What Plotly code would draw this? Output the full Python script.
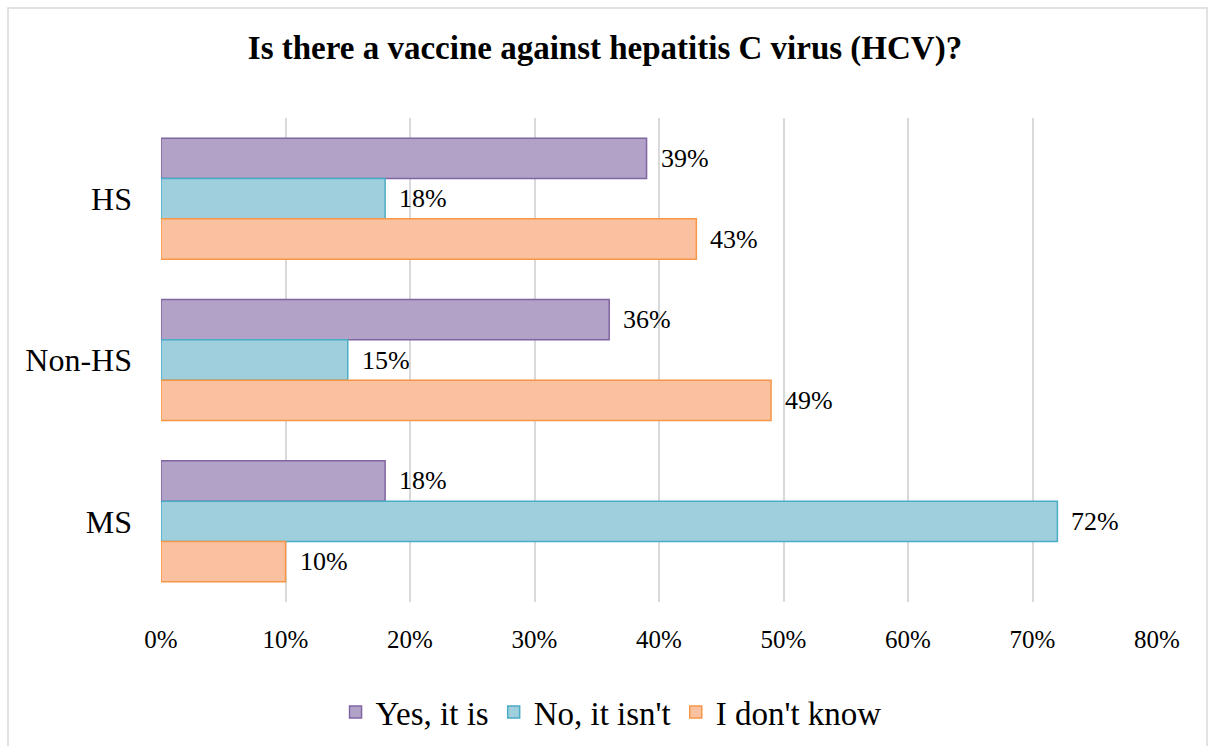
import plotly.graph_objects as go

categories = ["HS", "Non-HS", "MS"]
yes_it_is = [39, 36, 18]
no_it_isnt = [18, 15, 72]
dont_know = [43, 49, 10]
x_ticks = [0, 10, 20, 30, 40, 50, 60, 70, 80]

series = [
    ("Yes, it is", yes_it_is, "#b3a2c8", "#8064a2"),
    ("No, it isn't", no_it_isnt, "#9fcfdd", "#4bacc6"),
    ("I don't know", dont_know, "#fac1a0", "#f79646"),
]

FONT = "Liberation Serif"
W, H = 1210, 746
L, R, T, B = 161, 53, 118, 144

fig = go.Figure()
for name, vals, fill, line in series:
    fig.add_trace(go.Bar(
        name=name, y=categories, x=vals, orientation="h",
        marker=dict(color=fill, line=dict(color=line, width=1.5)),
    ))

# value labels just past the end of each bar
bar_px = (H - T - B) / 3 * 0.75 / 3
for i, (name, vals, fill, line) in enumerate(series):
    for cat, v in zip(categories, vals):
        fig.add_annotation(
            x=v, y=cat, text=f"{v}%", showarrow=False,
            xanchor="left", yanchor="middle", xshift=12,
            yshift=(1 - i) * bar_px,
            font=dict(family=FONT, size=26, color="#000"),
        )

# outer chart frame
pw, ph = W - L - R, H - T - B
fig.add_shape(
    type="rect", xref="paper", yref="paper",
    x0=(8 - L) / pw, x1=(1207 - L) / pw,
    y0=(B - (H + 5)) / ph, y1=1 + (T - 8) / ph,
    line=dict(color="#d9d9d9", width=1.5), fillcolor="rgba(0,0,0,0)", layer="below",
)

fig.update_layout(
    width=W, height=H,
    margin=dict(l=L, r=R, t=T, b=B),
    paper_bgcolor="white", plot_bgcolor="white",
    barmode="group", bargap=0.25, bargroupgap=0,
    title=dict(
        text="<b>Is there a vaccine against hepatitis C virus (HCV)?</b>",
        x=0.5, xref="container", y=1 - 47 / H, yref="container", yanchor="middle",
        xanchor="center", font=dict(family=FONT, size=33, color="#000"),
    ),
    legend=dict(
        orientation="h", x=0.505, xref="container", xanchor="center",
        y=1 - 712 / H, yref="container", yanchor="middle",
        font=dict(family=FONT, size=33, color="#000"),
        itemwidth=30, tracegroupgap=0,
    ),
    xaxis=dict(
        range=[0, 80], tickvals=x_ticks, ticktext=[f"{t}%" for t in x_ticks],
        showgrid=True, gridcolor="#d9d9d9", gridwidth=2,
        zeroline=False, showline=False, ticks="",
        ticklabelstandoff=20,
        tickfont=dict(family=FONT, size=25, color="#000"),
    ),
    yaxis=dict(
        autorange="reversed", categoryorder="array", categoryarray=categories,
        showgrid=False, zeroline=False, showline=False, ticks="",
        ticklabelstandoff=28,
        tickfont=dict(family=FONT, size=32, color="#000"),
    ),
)

fig.write_html("out.html")
